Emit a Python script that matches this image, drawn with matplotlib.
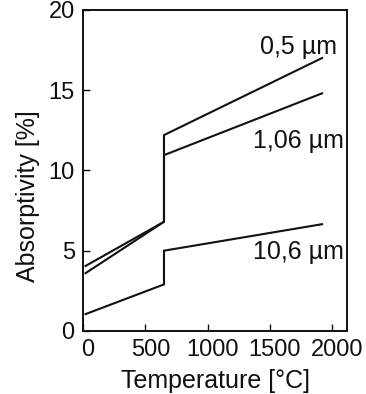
import matplotlib
matplotlib.use("Agg")
import matplotlib.pyplot as plt
from matplotlib.transforms import ScaledTranslation

plt.rcParams['font.family'] = ['Liberation Sans', 'DejaVu Sans']

temp_05 = [20, 650, 650, 1920]
abs_05 = [4.05, 6.8, 12.2, 17.0]
temp_106 = [20, 650, 650, 1920]
abs_106 = [3.6, 6.8, 10.95, 14.8]
temp_106um = [20, 650, 650, 1920]
abs_106um = [1.05, 2.9, 5.0, 6.65]

labels = ["0,5 µm", "1,06 µm", "10,6 µm"]
label_pos = [(1730, 17.25), (1730, 11.4), (1730, 4.5)]

xticks = [0, 500, 1000, 1500, 2000]
yticks = [0, 5, 10, 15, 20]

fig = plt.figure(figsize=(3.66, 3.94), dpi=100)
ax = fig.add_axes([0.227, 0.160, 0.721, 0.815])

for t, a in [(temp_05, abs_05), (temp_106, abs_106), (temp_106um, abs_106um)]:
    ax.plot(t, a, color='#111111', lw=1.5, solid_joinstyle='miter')

for lab, (x, y) in zip(labels, label_pos):
    ax.text(x, y, lab, ha='center', va='baseline', fontsize=18, color='#111111')

ax.set_xlim(0, 2120)
ax.set_ylim(0, 20)
ax.set_xticks(xticks)
ax.set_yticks(yticks)
ax.tick_params(direction='in', length=5, width=1.0, labelsize=17, colors='#111111')
ax.tick_params(axis='x', pad=6)
ax.tick_params(axis='y', pad=6)
for s in ax.spines.values():
    s.set_linewidth(1.4)
    s.set_color('#111111')

shift = ScaledTranslation(5 / 100, 0, fig.dpi_scale_trans)
for lbl in ax.get_xticklabels():
    lbl.set_transform(lbl.get_transform() + shift)

ax.set_xlabel("Temperature [°C]", fontsize=18, color='#111111', labelpad=5.5)
ax.set_ylabel("Absorptivity [%]", fontsize=18, color='#111111')
ax.yaxis.set_label_coords(-0.163, 0.42)

fig.savefig("out.png", dpi=100)
